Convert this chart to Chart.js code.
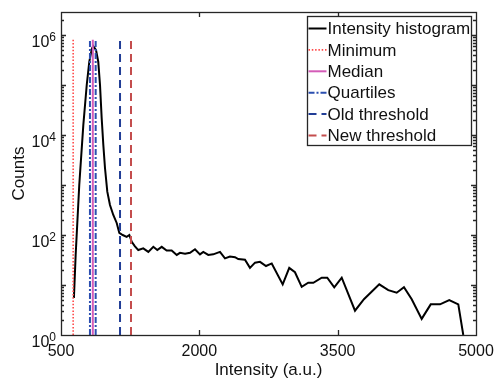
<!DOCTYPE html>
<html><head><meta charset="utf-8">
<script src="https://cdn.jsdelivr.net/npm/chart.js@4.4.1/dist/chart.umd.min.js"></script>
<style>html,body{margin:0;padding:0;background:#fff;}#wrap{width:495px;height:383px;}</style>
</head><body><div id="wrap"><canvas id="c" width="495" height="383"></canvas></div>
<script>
// ---- data ----
const intensity = [640,659,698,742,779,807,836,850,880,904,923,941,959,977,1002,1031,1067,1104,1132,1169,1212,1241,1267,1300,1338,1392,1447,1501,1544,1592,1646,1700,1755,1790,1845,1899,1953,2007,2043,2097,2151,2224,2278,2332,2387,2422,2495,2549,2604,2658,2723,2785,2904,2975,3037,3110,3181,3236,3327,3387,3463,3544,3688,3785,3951,4049,4140,4219,4303,4411,4509,4610,4710,4808,4862];
const counts = [5.5,40,1000,15800,100000,293000,540000,600000,500000,292000,100000,21900,6300,2190,735,398,251,174,110,100,92,100,73,60,50,54,46,58,50,58,49,49,40,44,42,44,52,41,46,40,41,46,34,37,36,33,32,22,28,29,24,27,10.3,22,18,9.2,11.1,11.1,14,14,9.0,14,3.06,5.2,10.3,7.9,7.0,9.0,5.2,2.1,4.1,4.1,5.0,4.1,1];
const minimumValues = [632];
const medianValues = [845];
const quartileValues = [814, 876];
const oldThresholdValues = [1140];
const newThresholdValues = [1259];
const markerTop = 8e5;      // vertical markers run from count 1 up to this
const markerBottom = 1;
const xTickValues = [500, 2000, 3500, 5000];
const yLabelExponents = [0, 2, 4, 6];
const seriesLabels = ['Intensity histogram','Minimum','Median','Quartiles','Old threshold','New threshold'];

function vlines(vals){
  const out=[];
  vals.forEach((v,i)=>{ if(i>0) out.push({x:v,y:null}); out.push({x:v,y:markerBottom}); out.push({x:v,y:markerTop}); });
  return out;
}
function isDecade(v){ const e=Math.log10(v); return Math.abs(e-Math.round(e))<1e-9; }

const FONT = "'Liberation Sans', Arial, sans-serif";
Chart.defaults.font.family = FONT;
Chart.defaults.color = '#111';

const framePlugin = {
  id:'frame',
  afterDatasetsDraw(chart){
    const {ctx, chartArea:a, scales:{x,y}} = chart;
    ctx.save();
    ctx.strokeStyle='#262626'; ctx.lineWidth=1.3; ctx.setLineDash([]);
    ctx.beginPath();
    x.ticks.forEach(t=>{ const px=Math.round(x.getPixelForValue(t.value))+0.5; if(px<=a.left+2||px>=a.right-2) return;
      ctx.moveTo(px,a.bottom); ctx.lineTo(px,a.bottom-5); ctx.moveTo(px,a.top); ctx.lineTo(px,a.top+5); });
    y.ticks.forEach(t=>{ const py=Math.round(y.getPixelForValue(t.value))+0.5; if(py<a.top+1||py>a.bottom-1) return;
      const L = isDecade(t.value)?5:3;
      ctx.moveTo(a.left,py); ctx.lineTo(a.left+L,py); ctx.moveTo(a.right,py); ctx.lineTo(a.right-L,py); });
    ctx.stroke();
    ctx.strokeRect(Math.round(a.left)+0.5, Math.round(a.top)+0.5, Math.round(a.right-a.left), Math.round(a.bottom-a.top));
    // y tick labels: 10 with raised exponent
    ctx.fillStyle='#111'; ctx.textAlign='right'; ctx.textBaseline='alphabetic';
    const xr = a.left - 5;
    yLabelExponents.forEach(e=>{
      const py = y.getPixelForValue(Math.pow(10,e));
      ctx.font = '12px '+FONT;
      const es = String(e); const ew = ctx.measureText(es).width;
      ctx.fillText(es, xr, py+6);
      ctx.font = '16px '+FONT;
      ctx.fillText('10', xr-ew, py+12);
    });
    ctx.restore();
  }
};

const legendPlugin = {
  id:'boxLegend',
  afterDraw(chart){
    const {ctx, chartArea:a} = chart;
    const w=164, h=129, bx=Math.round(a.right-5-w)+0.5, by=Math.round(a.top+4)+0.5;
    ctx.save();
    ctx.fillStyle='#fff'; ctx.fillRect(bx,by,w,h);
    ctx.strokeStyle='#262626'; ctx.lineWidth=1.3; ctx.setLineDash([]); ctx.strokeRect(bx,by,w,h);
    ctx.font='17px '+FONT;
    ctx.textBaseline='middle'; ctx.textAlign='left';
    chart.data.datasets.forEach((ds,i)=>{
      const cy = by + 12 + i*21.4;
      ctx.strokeStyle=ds.borderColor; ctx.lineWidth=ds.borderWidth; ctx.setLineDash(ds.borderDash||[]);
      ctx.beginPath(); ctx.moveTo(bx+1,cy); ctx.lineTo(bx+19,cy); ctx.stroke();
      ctx.setLineDash([]);
      ctx.fillStyle='#111'; ctx.fillText(ds.label, bx+20, cy+1);
    });
    ctx.restore();
  }
};

new Chart(document.getElementById('c'), {
  type:'line',
  data:{ datasets:[
    {label:seriesLabels[0], data:intensity.map((v,i)=>({x:v,y:counts[i]})), borderColor:'#000', borderWidth:2, pointRadius:0, tension:0, order:10},
    {label:seriesLabels[1], data:vlines(minimumValues), borderColor:'#ff4a4a', borderWidth:1.6, borderDash:[1.5,1.8], pointRadius:0, order:1},
    {label:seriesLabels[2], data:vlines(medianValues), borderColor:'#d45cb8', borderWidth:2, pointRadius:0, order:1},
    {label:seriesLabels[3], data:vlines(quartileValues), borderColor:'#2b4fb0', borderWidth:2, borderDash:[6,2,2,2], pointRadius:0, order:1},
    {label:seriesLabels[4], data:vlines(oldThresholdValues), borderColor:'#213d96', borderWidth:2, borderDash:[8,5], pointRadius:0, order:1},
    {label:seriesLabels[5], data:vlines(newThresholdValues), borderColor:'#c44d4d', borderWidth:2, borderDash:[8,5], pointRadius:0, order:1}
  ]},
  options:{
    responsive:false, animation:false, devicePixelRatio:1,
    layout:{padding:{left:0,right:19,top:12,bottom:0}},
    plugins:{legend:{display:false}, tooltip:{enabled:false}},
    scales:{
      x:{type:'linear', min:500, max:5000,
        afterBuildTicks:s=>{ s.ticks = xTickValues.map(v=>({value:v})); },
        afterFit:s=>{ s.height=48; s.paddingLeft=0; s.paddingRight=0; },
        grid:{display:false, drawTicks:false}, border:{display:false},
        ticks:{font:{size:16}, color:'#111', padding:7, maxRotation:0, autoSkip:false, callback:v=>String(v)},
        title:{display:true, text:'Intensity (a.u.)', font:{size:17}, color:'#111', padding:{top:0,bottom:2}}
      },
      y:{type:'logarithmic', min:1, max:Math.pow(10,6.46),
        afterBuildTicks:s=>{ const t=[]; for(let e=0;e<=6;e++){ for(let m=1;m<=9;m++){ const v=m*Math.pow(10,e); if(v<=s.max) t.push({value:v}); } } s.ticks=t; },
        afterFit:s=>{ s.width=61; s.paddingTop=0; s.paddingBottom=0; },
        grid:{display:false, drawTicks:false}, border:{display:false},
        ticks:{display:false},
        title:{display:true, text:'Counts', font:{size:17}, color:'#111', padding:{top:9,bottom:0}}
      }
    }
  },
  plugins:[framePlugin, legendPlugin]
});
</script></body></html>
